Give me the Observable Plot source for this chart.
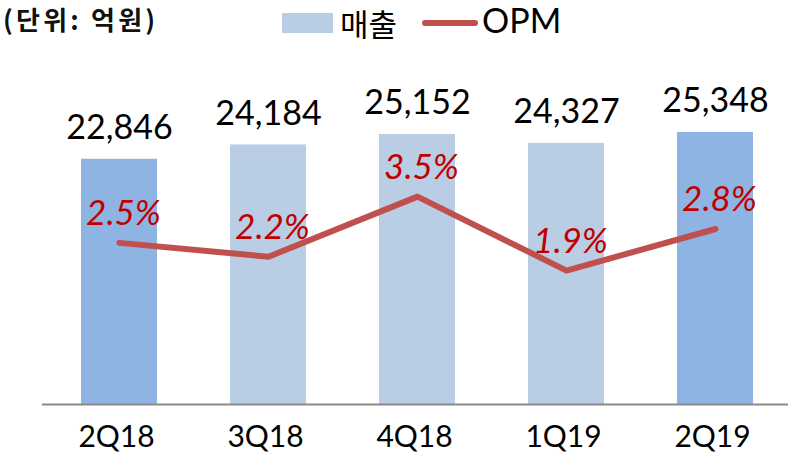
<!DOCTYPE html>
<html><head><meta charset="utf-8">
<script src="https://cdn.jsdelivr.net/npm/d3@7"></script>
<script src="https://cdn.jsdelivr.net/npm/@observablehq/plot@0.6"></script>
<style>
body{margin:0;background:#fff;}
#wrap{width:788px;}
#head{position:relative;width:788px;height:50px;}
#head div{position:absolute;white-space:nowrap;}
#title{left:3px;top:2px;line-height:34px;font-family:"Noto Sans CJK KR",sans-serif;font-weight:bold;font-size:26px;letter-spacing:3.2px;color:#111;}
#sw1{left:282px;top:13px;width:51px;height:20px;background:#B9CDE5;}
#lab1{left:340px;top:0px;font-family:"Noto Sans CJK KR",sans-serif;font-size:31px;color:#000;}
#sw2{left:422px;top:20px;width:56px;height:6px;border-radius:3px;background:#C0504D;}
#lab2{left:482px;top:0px;line-height:40px;font-family:Lato,sans-serif;font-size:34px;color:#000;}
</style></head><body>
<div id="wrap">
<div id="head">
<div id="title">(단위: 억원)</div>
<div id="sw1"></div><div id="lab1">매출</div>
<div id="sw2"></div><div id="lab2">OPM</div>
</div>
<div id="chart"></div>
</div>
<script>
const quarters = ["2Q18","3Q18","4Q18","1Q19","2Q19"];
const sales = [22846,24184,25152,24327,25348];
const opm = [2.5,2.2,3.5,1.9,2.8];
const highlighted = ["2Q18","2Q19"];

const data = quarters.map((q,i)=>({q, sales: sales[i], opm: opm[i], hl: highlighted.includes(q)}));

// secondary axis for OPM mapped onto the primary scale
const H = 416, basePx = 354, topPx = 32;
const yPx = d3.scaleLinear([0,30000],[basePx,topPx]);
const opmPx = d3.scaleLinear([0,3.5],[basePx-46,basePx-46-3.5*46.25]);
const opmY = p => yPx.invert(opmPx(p));
const fmt = d3.format(",");

const chart = Plot.plot({
  width: 788, height: H,
  marginLeft: 42, marginRight: 0, marginTop: 0, marginBottom: H-basePx,
  style: {fontFamily: "Lato, sans-serif", background: "#fff"},
  x: {domain: quarters, range: [42, 791], paddingInner: 0.49, paddingOuter: 0.245, axis: null},
  y: {domain: [0,30000], range: [basePx, topPx], axis: null},
  marks: [
    Plot.barY(data.filter(d=>d.hl), {x:"q", y:"sales", fill:"#8EB4E3"}),
    Plot.barY(data.filter(d=>!d.hl), {x:"q", y:"sales", fill:"#B9CDE5"}),
    Plot.ruleY([0], {stroke:"#898989", strokeWidth:2}),
    Plot.line(data, {x:"q", y:d=>opmY(d.opm), stroke:"#C0504D", strokeWidth:6, strokeLinecap:"round", strokeLinejoin:"round"}),
    Plot.text(data, {x:"q", y:"sales", text:d=>fmt(d.sales), dy:-31, fontSize:34, fill:"#000"}),
    Plot.text(data, {x:"q", y:d=>opmY(d.opm), text:d=>d.opm.toFixed(1)+"%", dx:4, dy:-29, fontSize:35, fontStyle:"italic", fill:"#C00000"}),
    Plot.text(data, {x:"q", frameAnchor:"bottom", text:"q", dx:-3, dy:42, fontSize:30, fill:"#000"})
  ]
});
document.getElementById("chart").appendChild(chart);
</script>
</body></html>
